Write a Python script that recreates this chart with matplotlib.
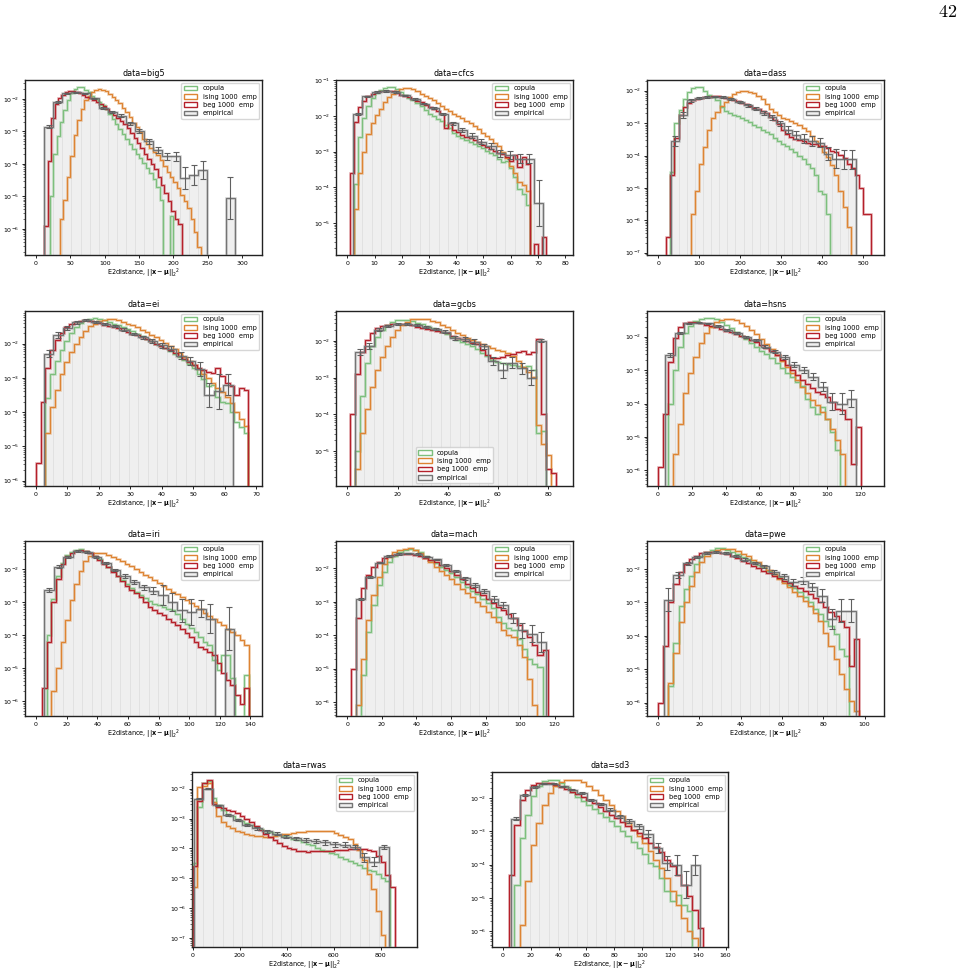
import numpy as np
import matplotlib.pyplot as plt
from matplotlib.patches import Patch
from matplotlib.ticker import MultipleLocator, LogLocator, NullFormatter

# every series: log10(density) per bin, None = empty bin
# model series share one bin width per dataset, each has its own first edge

# ---- big5 ----
big5_step = 5
big5_copula_start, big5_ising_start, big5_beg_start = 20, 35, 12
big5_copula = [-5.0, -3.7, -3.15, -2.7, -2.35, -2.03, -1.82, -1.7, -1.64, -1.65, -1.72, -1.8, -1.9, -2.0,
               -2.1, -2.2, -2.32, -2.47, -2.62, -2.77, -2.92, -3.08, -3.23, -3.38, -3.54, -3.7, -3.83,
               -3.98, -4.12, -4.27, -4.45, -4.7, -5.1, None, None, -5.6]
big5_ising = [-5.7, -5.1, -4.4, -3.75, -3.1, -2.65, -2.3, -2.05, -1.9, -1.8, -1.73, -1.7, -1.72, -1.76,
              -1.84, -1.93, -2.03, -2.14, -2.27, -2.4, -2.57, -2.73, -2.88, -3.03, -3.22, -3.4, -3.5,
              -3.62, -3.73, -3.87, -4.05, -4.25, -4.4, -4.55, -4.75, -4.95, -5.15, -5.35, -5.7, -6.1, -6.55]
big5_beg = [-5.9, -3.9, -2.6, -2.15, -1.97, -1.87, -1.8, -1.77, -1.77, -1.79, -1.83, -1.88, -1.93, -1.98,
            -2.05, -2.1, -2.15, -2.22, -2.3, -2.39, -2.49, -2.58, -2.68, -2.77, -2.9, -3.05, -3.2, -3.35,
            -3.5, -3.68, -3.85, -4.0, -4.15, -4.4, -4.65, -4.9, -5.15, -5.45, -5.7, -5.85]
big5_emp_start, big5_emp_width = 12, 13.2
big5_emp = [-2.85, -2.11, -1.83, -1.8, -1.83, -1.98, -2.27, -2.39, -2.52, -2.75, -3.0, -3.31, -3.57,
            -3.77, -3.77, -4.44, -4.34, -4.18, None, None, -5.05]
big5_emp_err = [0.06, 0.03, 0.02, 0.02, 0.02, 0.02, 0.03, 0.03, 0.04, 0.05, 0.06, 0.08, 0.1, 0.12, 0.15,
                0.33, 0.32, 0.27, 0, 0, 0.65]

# ---- cfcs ----
cfcs_step = 1.5
cfcs_copula_start, cfcs_ising_start, cfcs_beg_start = 2.5, 2.5, 1
cfcs_copula = [-3.9, -2.6, -2.05, -1.72, -1.5, -1.36, -1.27, -1.21, -1.19, -1.2, -1.24, -1.33, -1.42,
               -1.49, -1.56, -1.63, -1.73, -1.83, -1.93, -2.0, -2.08, -2.15, -2.25, -2.35, -2.47, -2.55,
               -2.62, -2.68, -2.73, -2.78, -2.83, -2.9, -2.97, -3.03, -3.1, -3.2, -3.3, -3.25, -3.45,
               -3.7, -4.05, -4.2, -4.5]
cfcs_ising = [-4.6, -3.6, -3.0, -2.5, -2.2, -1.98, -1.8, -1.62, -1.48, -1.37, -1.3, -1.25, -1.22, -1.22,
              -1.24, -1.3, -1.38, -1.45, -1.5, -1.56, -1.63, -1.72, -1.8, -1.86, -1.93, -2.0, -2.07,
              -2.13, -2.2, -2.28, -2.37, -2.47, -2.55, -2.65, -2.75, -2.85, -3.0, -3.18, -3.4, -3.6,
              -3.85, -3.95, -4.1]
cfcs_beg = [-3.6, -2.16, -1.75, -1.58, -1.45, -1.38, -1.33, -1.3, -1.29, -1.29, -1.31, -1.35, -1.4, -1.44,
            -1.48, -1.52, -1.57, -1.62, -1.68, -1.74, -1.8, -1.86, -1.95, -2.35, -2.2, -2.38, -2.45,
            -2.52, -2.58, -2.63, -2.68, -2.74, -2.8, -2.86, -2.92, -2.97, -3.03, -3.08, -3.15, -3.25,
            -3.1, -3.42, -3.15, -3.35, None, -5.6, None, -5.4]
cfcs_emp_start, cfcs_emp_width = 2, 3.5
cfcs_emp = [-1.95, -1.45, -1.33, -1.3, -1.33, -1.42, -1.52, -1.65, -1.78, -1.95, -2.2, -2.4, -2.55,
            -2.72, -2.85, -3.05, -3.1, -3.2, -3.2, -4.45]
cfcs_emp_err = [0.03, 0.02, 0.02, 0.02, 0.02, 0.02, 0.02, 0.02, 0.02, 0.03, 0.04, 0.05, 0.06, 0.07,
                0.08, 0.1, 0.12, 0.12, 0.13, 0.65]

# ---- dass ----
dass_step = 10
dass_copula_start, dass_ising_start, dass_beg_start = 30, 80, 20
dass_copula = [-4.5, -3.0, -2.6, -2.25, -2.03, -1.93, -1.89, -1.9, -2.0, -2.12, -2.2, -2.3, -2.5, -2.62,
               -2.7, -2.74, -2.78, -2.85, -2.9, -2.98, -3.05, -3.12, -3.2, -3.27, -3.35, -3.45, -3.55,
               -3.63, -3.72, -3.8, -3.9, -4.0, -4.12, -4.25, -4.4, -4.6, -5.1, -5.2, -5.8]
dass_ising = [-5.8, -5.1, -4.25, -3.75, -3.2, -2.85, -2.65, -2.48, -2.35, -2.2, -2.1, -2.03, -2.0, -2.01,
              -2.04, -2.08, -2.15, -2.25, -2.4, -2.55, -2.65, -2.75, -2.83, -2.88, -2.93, -3.0, -3.06,
              -3.15, -3.25, -3.4, -3.55, -3.72, -3.9, -4.05, -4.3, -4.6, -5.1, -5.6, -6.2]
dass_beg = [-6.5, -4.6, -3.45, -2.75, -2.5, -2.37, -2.3, -2.26, -2.23, -2.2, -2.18, -2.16, -2.17, -2.19,
            -2.22, -2.26, -2.29, -2.33, -2.37, -2.42, -2.47, -2.52, -2.58, -2.64, -2.7, -2.8, -2.9,
            -3.02, -3.2, -3.35, -3.42, -3.48, -3.52, -3.56, -3.6, -3.63, -3.66, -3.7, -3.72, -3.78,
            -3.85, -3.9, -3.98, -4.08, -4.25, -4.4, -4.6, -5.0, -5.8, -5.8]
dass_emp_start, dass_emp_width = 32, 19.6
dass_emp = [-3.55, -2.75, -2.3, -2.22, -2.2, -2.18, -2.2, -2.27, -2.35, -2.45, -2.55, -2.68, -2.82,
            -3.0, -3.2, -3.37, -3.48, -3.55, -3.6, -3.95, -4.1, -4.12, -4.12]
dass_emp_err = [0.15, 0.09, 0.04, 0.03, 0.03, 0.03, 0.03, 0.03, 0.04, 0.04, 0.05, 0.06, 0.07, 0.08,
                0.1, 0.12, 0.14, 0.15, 0.15, 0.2, 0.3, 0.3, 0.3]

# ---- ei ----
ei_step = 1.5
ei_copula_start, ei_ising_start, ei_beg_start = 3, 3, 0
ei_copula = [-3.6, -2.9, -2.5, -2.2, -1.92, -1.7, -1.52, -1.4, -1.31, -1.27, -1.26, -1.28, -1.32, -1.37,
             -1.42, -1.47, -1.52, -1.57, -1.64, -1.72, -1.79, -1.86, -1.93, -2.0, -2.07, -2.14, -2.22,
             -2.3, -2.38, -2.48, -2.6, -2.72, -2.9, -3.05, -3.25, -3.2, -3.55, -3.7, -3.75, -4.0, -4.3,
             -4.45, -4.6]
ei_ising = [-4.6, -3.85, -3.35, -2.9, -2.55, -2.25, -2.02, -1.8, -1.63, -1.5, -1.42, -1.35, -1.31, -1.29,
            -1.29, -1.32, -1.37, -1.42, -1.47, -1.53, -1.6, -1.67, -1.74, -1.82, -1.9, -1.99, -2.08,
            -2.17, -2.28, -2.4, -2.5, -2.62, -2.75, -2.88, -3.0, -3.15, -3.3, -3.42, -3.55, -3.75,
            -4.0, -4.2, -4.4]
ei_beg = [-5.5, -3.7, -2.7, -2.2, -1.9, -1.68, -1.52, -1.42, -1.36, -1.33, -1.32, -1.34, -1.38, -1.41,
          -1.45, -1.49, -1.53, -1.56, -1.61, -1.66, -1.71, -1.76, -1.82, -1.88, -1.94, -2.0, -2.06,
          -2.12, -2.19, -2.27, -2.36, -2.45, -2.54, -2.62, -2.7, -2.76, -2.82, -2.87, -2.7, -2.95,
          -3.15, -3.25, -3.5, -3.3, -3.35]
ei_emp_start, ei_emp_width = 2.5, 3.0
ei_emp = [-2.3, -1.75, -1.55, -1.38, -1.32, -1.37, -1.42, -1.5, -1.6, -1.72, -1.82, -1.92, -2.05, -2.15,
          -2.35, -2.5, -2.75, -3.5, -3.4, -3.2]
ei_emp_err = [0.1, 0.08, 0.05, 0.04, 0.03, 0.03, 0.03, 0.03, 0.04, 0.04, 0.05, 0.06, 0.07, 0.08, 0.1,
              0.12, 0.2, 0.35, 0.5, 0.3]

# ---- gcbs ----
gcbs_step = 2
gcbs_copula_start, gcbs_ising_start, gcbs_beg_start = 3, 3, 1
gcbs_copula = [-5.0, -3.5, -2.6, -2.15, -1.9, -1.7, -1.57, -1.49, -1.44, -1.43, -1.44, -1.47, -1.51,
               -1.55, -1.6, -1.65, -1.7, -1.76, -1.82, -1.9, -1.97, -2.03, -2.08, -2.14, -2.22, -2.32,
               -2.42, -2.52, -2.58, -2.6, -2.62, -2.65, -2.68, -2.7, -2.68, -2.8, -4.5, -4.45]
gcbs_ising = [-5.5, -4.5, -3.85, -3.25, -2.8, -2.45, -2.15, -1.9, -1.72, -1.58, -1.48, -1.42, -1.4, -1.4,
              -1.42, -1.45, -1.5, -1.56, -1.63, -1.7, -1.78, -1.85, -1.92, -1.98, -2.04, -2.1, -2.15,
              -2.2, -2.24, -2.28, -2.33, -2.42, -2.55, -2.7, -2.85, -2.99, -4.3, -4.8, -5.1]
gcbs_beg = [-4.0, -2.9, -2.3, -1.98, -1.78, -1.65, -1.59, -1.56, -1.54, -1.53, -1.53, -1.55, -1.58, -1.62,
            -1.65, -1.68, -1.71, -1.74, -1.76, -1.8, -1.86, -1.92, -1.96, -2.0, -2.05, -2.1, -2.25,
            -2.4, -2.48, -2.47, -2.45, -2.4, -2.36, -2.3, -2.28, -2.35, -2.3, -1.95, -4.0, -5.5, -5.6]
gcbs_emp_start, gcbs_emp_width = 3, 3.8
gcbs_emp = [-2.3, -2.15, -1.7, -1.6, -1.55, -1.54, -1.57, -1.63, -1.68, -1.75, -1.92, -1.95, -2.02,
            -2.15, -2.55, -2.8, -2.6, -2.75, -3.0, -2.0]
gcbs_emp_err = [0.08, 0.08, 0.04, 0.03, 0.03, 0.03, 0.03, 0.03, 0.04, 0.04, 0.05, 0.06, 0.06, 0.07,
                0.1, 0.2, 0.15, 0.15, 0.2, 0.04]

# ---- hsns ----
hsns_step = 3
hsns_copula_start, hsns_ising_start, hsns_beg_start = 6, 9, 0
hsns_copula = [-4.0, -3.0, -2.3, -1.9, -1.67, -1.53, -1.46, -1.43, -1.43, -1.48, -1.56, -1.65, -1.75,
               -1.85, -1.97, -2.08, -2.2, -2.3, -2.42, -2.52, -2.65, -2.78, -2.95, -3.08, -3.2, -3.35,
               -3.47, -3.85, -4.1, -4.3, -4.1, -4.45, -4.85, -5.4]
hsns_ising = [-5.5, -4.6, -3.7, -3.1, -2.6, -2.2, -1.9, -1.7, -1.57, -1.5, -1.47, -1.47, -1.5, -1.58,
              -1.68, -1.8, -1.92, -2.06, -2.22, -2.38, -2.55, -2.72, -2.9, -3.1, -3.3, -3.5, -3.7, -3.9,
              -4.05, -4.25, -4.45, -4.75, -5.1, -5.5]
hsns_beg = [-5.9, -4.3, -2.75, -2.05, -1.72, -1.6, -1.57, -1.57, -1.6, -1.64, -1.68, -1.72, -1.77, -1.82,
            -1.87, -1.92, -1.97, -2.03, -2.1, -2.17, -2.25, -2.33, -2.44, -2.56, -2.7, -2.85, -3.0,
            -3.15, -3.3, -3.42, -3.55, -3.65, -3.72, -3.8, -3.95, -4.15, -4.2, -4.45, -5.8, -4.7]
hsns_emp_start, hsns_emp_width = 4.3, 5.65
hsns_emp = [-2.55, -1.9, -1.6, -1.58, -1.6, -1.68, -1.8, -1.88, -2.0, -2.1, -2.3, -2.45, -2.6, -2.84,
            -3.0, -3.2, -3.5, -3.95, -4.0, -3.85]
hsns_emp_err = [0.06, 0.03, 0.02, 0.02, 0.02, 0.02, 0.02, 0.03, 0.03, 0.03, 0.04, 0.05, 0.06, 0.07,
                0.08, 0.1, 0.13, 0.25, 0.3, 0.25]

# ---- iri ----
iri_step = 3
iri_copula_start, iri_ising_start, iri_beg_start = 7, 10, 4
iri_copula = [-4.0, -2.9, -2.2, -1.82, -1.58, -1.47, -1.42, -1.4, -1.44, -1.52, -1.6, -1.7, -1.82, -1.95,
              -2.07, -2.2, -2.33, -2.46, -2.58, -2.68, -2.78, -2.88, -2.98, -3.05, -3.1, -3.15, -3.2,
              -3.25, -3.35, -3.5, -3.65, -3.78, -3.9, -4.05, -4.2, -4.3, -4.75, -5.05, -4.6, -4.6,
              -5.3, None, None, -5.2]
iri_ising = [-5.7, -5.0, -4.2, -3.55, -2.95, -2.45, -2.05, -1.75, -1.6, -1.52, -1.5, -1.51, -1.56, -1.62,
             -1.69, -1.76, -1.84, -1.92, -2.0, -2.08, -2.17, -2.25, -2.34, -2.43, -2.52, -2.6, -2.68,
             -2.76, -2.84, -2.93, -3.03, -3.13, -3.22, -3.32, -3.42, -3.52, -3.6, -3.7, -3.8, -3.9,
             -4.0, -4.15, -4.3]
iri_beg = [-5.6, -4.2, -3.0, -2.3, -1.85, -1.6, -1.5, -1.45, -1.43, -1.45, -1.52, -1.6, -1.72, -1.84,
           -1.95, -2.08, -2.22, -2.35, -2.5, -2.62, -2.73, -2.85, -3.0, -3.14, -3.25, -3.33, -3.4, -3.5,
           -3.6, -3.7, -3.82, -3.93, -4.05, -4.22, -4.35, -4.42, -4.5, -4.6, -4.85, -5.15, -5.35, -5.5,
           -5.8, -6.1, -5.6]
iri_emp_start, iri_emp_width = 5.4, 6.2
iri_emp = [-2.63, -1.93, -1.63, -1.45, -1.48, -1.63, -1.83, -2.03, -2.21, -2.38, -2.55, -2.65, -2.78,
           -3.0, -3.25, -3.3, -3.2, -3.5, None, -3.8]
iri_emp_err = [0.06, 0.04, 0.03, 0.02, 0.02, 0.03, 0.03, 0.04, 0.05, 0.06, 0.08, 0.1, 0.3, 0.28, 0.35,
               0.4, 0.25, 0.45, 0, 0.65]

# ---- mach ----
mach_step = 3
mach_copula_start, mach_ising_start, mach_beg_start = 8, 5, 2
mach_copula = [-5.2, -3.9, -3.1, -2.5, -2.1, -1.8, -1.62, -1.5, -1.44, -1.42, -1.44, -1.52, -1.62, -1.75,
               -1.85, -1.95, -2.05, -2.15, -2.27, -2.4, -2.55, -2.68, -2.78, -2.92, -3.05, -3.2, -3.45,
               -3.65, -3.78, -3.85, -4.1, -4.4, -4.7, -4.85, -4.95]
mach_ising = [-6.1, -4.7, -3.55, -2.8, -2.25, -1.88, -1.65, -1.52, -1.45, -1.41, -1.4, -1.45, -1.55,
              -1.68, -1.82, -1.95, -2.08, -2.2, -2.33, -2.48, -2.62, -2.75, -2.87, -3.0, -3.12, -3.3,
              -3.45, -3.62, -3.85, -3.98, -4.05, -4.3, -4.65, -5.3, -6.1]
mach_beg = [-5.0, -3.5, -2.6, -2.2, -1.95, -1.8, -1.68, -1.62, -1.59, -1.57, -1.57, -1.58, -1.6, -1.64,
            -1.69, -1.75, -1.82, -1.9, -1.99, -2.08, -2.2, -2.33, -2.46, -2.58, -2.7, -2.8, -2.92,
            -3.05, -3.15, -3.25, -3.37, -3.5, -3.7, -3.88, -4.05, -4.3, -4.6, -4.45]
mach_emp_start, mach_emp_width = 5, 5.5
mach_emp = [-2.92, -2.25, -1.83, -1.63, -1.57, -1.55, -1.57, -1.65, -1.73, -1.9, -2.07, -2.3, -2.5,
            -2.68, -2.92, -3.1, -3.5, -3.85, -3.95, -4.2]
mach_emp_err = [0.04, 0.03, 0.02, 0.02, 0.02, 0.02, 0.02, 0.02, 0.02, 0.03, 0.03, 0.04, 0.05, 0.06,
                0.08, 0.1, 0.15, 0.22, 0.25, 0.3]

# ---- pwe ----
pwe_step = 2.5
pwe_copula_start, pwe_ising_start, pwe_beg_start = 5, 5, 0
pwe_copula = [-5.5, -4.2, -3.1, -2.6, -2.2, -1.85, -1.62, -1.5, -1.42, -1.38, -1.38, -1.42, -1.48, -1.55,
              -1.63, -1.71, -1.79, -1.87, -1.95, -2.05, -2.15, -2.25, -2.36, -2.47, -2.58, -2.7, -2.83,
              -3.0, -3.2, -3.35, -3.55, -3.7, -3.95, -4.4, -4.6]
pwe_ising = [-5.4, -4.5, -3.6, -3.0, -2.5, -2.1, -1.8, -1.6, -1.48, -1.42, -1.39, -1.39, -1.41, -1.46,
             -1.54, -1.62, -1.72, -1.8, -1.9, -2.02, -2.15, -2.3, -2.42, -2.55, -2.68, -2.8, -2.95,
             -3.12, -3.33, -3.57, -3.9, -4.3, -4.7, -5.15, -5.6, -5.95, -6.25]
pwe_beg = [-6.0, -4.3, -3.0, -2.45, -2.1, -1.85, -1.7, -1.6, -1.53, -1.5, -1.48, -1.49, -1.52, -1.56,
           -1.62, -1.68, -1.75, -1.83, -1.9, -1.98, -2.05, -2.12, -2.2, -2.27, -2.35, -2.43, -2.5, -2.58,
           -2.66, -2.75, -2.86, -3.0, -3.15, -3.28, -3.4, -3.55, -3.75, -4.9, -4.1]
pwe_emp_start, pwe_emp_width = 2.7, 4.65
pwe_emp = [-2.92, -2.18, -1.83, -1.63, -1.53, -1.5, -1.53, -1.61, -1.72, -1.82, -1.92, -2.1, -2.22,
           -2.4, -2.35, -2.55, -2.8, -3.5, -3.25, -3.25]
pwe_emp_err = [0.35, 0.08, 0.05, 0.03, 0.03, 0.03, 0.03, 0.03, 0.04, 0.04, 0.05, 0.06, 0.07, 0.1, 0.1,
               0.12, 0.2, 0.3, 0.35, 0.35]

# ---- rwas ----
rwas_step = 20
rwas_copula_start, rwas_ising_start, rwas_beg_start = 0, 0, 0
rwas_copula = [-4.5, -2.6, -1.8, -1.75, -2.3, -2.55, -2.72, -2.83, -2.93, -3.0, -3.08, -3.15, -3.22,
               -3.28, -3.35, -3.4, -3.45, -3.5, -3.55, -3.59, -3.63, -3.67, -3.72, -3.78, -3.84, -3.9,
               -3.97, -4.04, -4.09, -4.14, -4.2, -4.28, -4.35, -4.42, -4.5, -4.57, -4.65, -4.72, -4.75,
               -4.85, -5.0, -5.1]
rwas_ising = [-5.3, -1.95, -1.9, -1.8, -2.45, -2.9, -3.12, -3.25, -3.33, -3.4, -3.45, -3.5, -3.54, -3.57,
              -3.59, -3.6, -3.6, -3.58, -3.56, -3.53, -3.5, -3.48, -3.46, -3.44, -3.42, -3.41, -3.4,
              -3.4, -3.41, -3.43, -3.47, -3.55, -3.62, -3.7, -3.85, -4.05, -4.4, -4.85, -5.35, -6.1, -6.9]
rwas_beg = [-4.6, -2.4, -1.8, -1.72, -2.5, -2.6, -2.65, -2.7, -2.75, -2.81, -2.9, -3.0, -3.12, -3.25,
            -3.37, -3.5, -3.6, -3.72, -3.82, -3.92, -3.97, -4.03, -4.07, -4.1, -4.12, -4.1, -4.09, -4.08,
            -4.07, -4.07, -4.06, -4.05, -4.05, -4.03, -4.02, -4.02, -4.03, -4.06, -4.1, -4.25, -4.45,
            -4.9, -5.3]
rwas_emp_start, rwas_emp_width = 4, 41.5
rwas_emp = [-2.33, -2.0, -2.56, -2.88, -3.05, -3.22, -3.33, -3.43, -3.51, -3.6, -3.66, -3.71, -3.75,
            -3.8, -3.86, -3.88, -3.95, -4.3, -4.45, -3.95]
rwas_emp_err = [0.02, 0.02, 0.02, 0.03, 0.03, 0.04, 0.04, 0.05, 0.05, 0.05, 0.06, 0.06, 0.07, 0.07,
                0.08, 0.08, 0.08, 0.15, 0.15, 0.07]

# ---- sd3 ----
sd3_step = 4
sd3_copula_start, sd3_ising_start, sd3_beg_start = 8, 12, 4
sd3_copula = [-4.6, -3.2, -2.5, -1.95, -1.65, -1.5, -1.45, -1.46, -1.55, -1.67, -1.82, -1.97, -2.1, -2.22,
              -2.33, -2.45, -2.57, -2.7, -2.85, -3.0, -3.15, -3.32, -3.5, -3.68, -3.95, -4.05, -4.4,
              -4.8, -5.1, -4.9, -5.2, -5.4]
sd3_ising = [-5.8, -4.5, -3.4, -2.75, -2.2, -1.85, -1.65, -1.53, -1.47, -1.45, -1.47, -1.53, -1.63, -1.75,
             -1.9, -2.05, -2.2, -2.38, -2.55, -2.75, -2.95, -3.15, -3.35, -3.6, -3.85, -4.1, -4.4, -4.8,
             -5.2, -5.6, -6.0, -6.2]
sd3_beg = [-4.3, -2.8, -2.05, -1.75, -1.6, -1.55, -1.54, -1.56, -1.6, -1.67, -1.74, -1.81, -1.88, -1.96,
           -2.05, -2.15, -2.27, -2.38, -2.5, -2.6, -2.72, -2.83, -2.95, -3.05, -3.2, -3.35, -3.48, -3.62,
           -3.85, -4.05, -4.3, -4.6, -4.95, -5.35, -5.9]
sd3_emp_start, sd3_emp_width = 5.7, 6.8
sd3_emp = [-2.62, -1.92, -1.67, -1.57, -1.57, -1.65, -1.75, -1.85, -2.05, -2.17, -2.35, -2.55, -2.7,
           -2.85, -3.07, -3.5, -3.95, -4.0, -4.6, -4.0]
sd3_emp_err = [0.05, 0.03, 0.02, 0.02, 0.02, 0.02, 0.02, 0.02, 0.03, 0.03, 0.04, 0.05, 0.06, 0.08, 0.1,
               0.15, 0.2, 0.3, 0.4, 0.3]

labels = ['copula', 'ising 1000  emp', 'beg 1000  emp', 'empirical']
colors = ['#7dbf7d', '#dd8433', '#b5202a', '#747474']

# name, series, empirical, xlim, log10 ylim, x tick step, legend loc, axes box in px (left, top, w, h)
panels = [
    ('big5', big5_step, [(big5_copula_start, big5_copula), (big5_ising_start, big5_ising), (big5_beg_start, big5_beg)],
     (big5_emp_start, big5_emp_width, big5_emp, big5_emp_err), (-16, 329), (-6.8, -1.42), 50, 'upper right', (25, 80, 237, 175)),
    ('cfcs', cfcs_step, [(cfcs_copula_start, cfcs_copula), (cfcs_ising_start, cfcs_ising), (cfcs_beg_start, cfcs_beg)],
     (cfcs_emp_start, cfcs_emp_width, cfcs_emp, cfcs_emp_err), (-4.2, 82.9), (-5.9, -0.99), 10, 'upper right', (336, 80, 237, 175)),
    ('dass', dass_step, [(dass_copula_start, dass_copula), (dass_ising_start, dass_ising), (dass_beg_start, dass_beg)],
     (dass_emp_start, dass_emp_width, dass_emp, dass_emp_err), (-27, 551), (-7.07, -1.67), 100, 'upper right', (647, 80, 237, 175)),
    ('ei', ei_step, [(ei_copula_start, ei_copula), (ei_ising_start, ei_ising), (ei_beg_start, ei_beg)],
     (ei_emp_start, ei_emp_width, ei_emp, ei_emp_err), (-3.5, 71.8), (-6.16, -1.05), 10, 'upper right', (25, 311, 237, 175)),
    ('gcbs', gcbs_step, [(gcbs_copula_start, gcbs_copula), (gcbs_ising_start, gcbs_ising), (gcbs_beg_start, gcbs_beg)],
     (gcbs_emp_start, gcbs_emp_width, gcbs_emp, gcbs_emp_err), (-4.5, 89.9), (-5.95, -1.19), 20, 'lower center', (336, 311, 237, 175)),
    ('hsns', hsns_step, [(hsns_copula_start, hsns_copula), (hsns_ising_start, hsns_ising), (hsns_beg_start, hsns_beg)],
     (hsns_emp_start, hsns_emp_width, hsns_emp, hsns_emp_err), (-6.5, 133.8), (-6.47, -1.23), 20, 'upper right', (647, 311, 237, 175)),
    ('iri', iri_step, [(iri_copula_start, iri_copula), (iri_ising_start, iri_ising), (iri_beg_start, iri_beg)],
     (iri_emp_start, iri_emp_width, iri_emp, iri_emp_err), (-7.2, 147.6), (-6.45, -1.15), 20, 'upper right', (25, 541, 237, 175)),
    ('mach', mach_step, [(mach_copula_start, mach_copula), (mach_ising_start, mach_ising), (mach_beg_start, mach_beg)],
     (mach_emp_start, mach_emp_width, mach_emp, mach_emp_err), (-6.5, 130.6), (-6.42, -1.18), 20, 'upper right', (336, 541, 237, 175)),
    ('pwe', pwe_step, [(pwe_copula_start, pwe_copula), (pwe_ising_start, pwe_ising), (pwe_beg_start, pwe_beg)],
     (pwe_emp_start, pwe_emp_width, pwe_emp, pwe_emp_err), (-5.3, 109.4), (-6.4, -1.16), 20, 'upper right', (647, 541, 237, 175)),
    ('rwas', rwas_step, [(rwas_copula_start, rwas_copula), (rwas_ising_start, rwas_ising), (rwas_beg_start, rwas_beg)],
     (rwas_emp_start, rwas_emp_width, rwas_emp, rwas_emp_err), (-3, 954), (-7.3, -1.44), 200, 'upper right', (192, 772, 225, 175)),
    ('sd3', sd3_step, [(sd3_copula_start, sd3_copula), (sd3_ising_start, sd3_ising), (sd3_beg_start, sd3_beg)],
     (sd3_emp_start, sd3_emp_width, sd3_emp, sd3_emp_err), (-7.9, 161.7), (-6.47, -1.22), 20, 'upper right', (492, 772, 236, 175)),
]


def to_density(logs):
    a = np.array(logs, dtype=float)
    return np.where(np.isnan(a), 0.0, 10.0 ** a)


W, H = 965, 975
fig = plt.figure(figsize=(W / 100, H / 100), dpi=100)

for name, step, series, emp, xlim, ylim, xstep, loc, box in panels:
    l, t, w, h = box
    ax = fig.add_axes([l / W, 1 - (t + h) / H, w / W, h / H])
    ax.set_yscale('log')

    # empirical: light filled bars
    e_start, e_width, e_logs, e_err = emp
    d = to_density(e_logs)
    edges = e_start + e_width * np.arange(len(d) + 1)
    ax.bar(edges[:-1], d, width=e_width, align='edge', color='#efefef',
           edgecolor='#e0e0e0', linewidth=0.6, zorder=1)

    # model histograms
    for (start, logs), c in zip(series, colors[:3]):
        m = to_density(logs)
        m_edges = start + step * np.arange(len(m) + 1)
        ax.stairs(m, m_edges, baseline=0, color=c, lw=2.0, alpha=0.3, zorder=2)
        ax.stairs(m, m_edges, baseline=0, color=c, lw=0.9, zorder=3)

    # empirical outline + error bars
    ax.stairs(d, edges, baseline=0, color=colors[3], lw=2.0, alpha=0.25, zorder=4)
    ax.stairs(d, edges, baseline=0, color=colors[3], lw=0.9, zorder=4)
    err = np.array(e_err, dtype=float)
    centers = (edges[:-1] + edges[1:]) / 2
    ok = d > 0
    lo = d - d * 10.0 ** (-err)
    hi = d * 10.0 ** err - d
    ax.errorbar(centers[ok], d[ok], yerr=[lo[ok], hi[ok]], fmt='none', ecolor='#606060',
                elinewidth=0.8, capsize=2, capthick=0.8, zorder=5)

    ax.set_xlim(*xlim)
    ax.set_ylim(10.0 ** ylim[0], 10.0 ** ylim[1])
    ax.xaxis.set_major_locator(MultipleLocator(xstep))
    ax.yaxis.set_major_locator(LogLocator(base=10, numticks=15))
    ax.yaxis.set_minor_locator(LogLocator(base=10, subs=np.arange(2, 10), numticks=15))
    ax.yaxis.set_minor_formatter(NullFormatter())
    ax.tick_params(axis='both', which='major', labelsize=4.5, length=2.5, width=0.6, pad=1.5)
    ax.tick_params(axis='y', which='minor', length=1.4, width=0.4)
    for s in ax.spines.values():
        s.set_linewidth(1.0)
        s.set_color('#222222')

    ax.set_title(f'data={name}', fontsize=5.8, pad=3)
    ax.set_xlabel(r'E2distance, $||\mathbf{x}-\mathbf{\mu}||_2{}^2$', fontsize=4.7, labelpad=1)

    handles = [Patch(facecolor='none', edgecolor=c, lw=1.0) for c in colors[:3]]
    handles.append(Patch(facecolor='#efefef', edgecolor=colors[3], lw=1.0))
    ax.legend(handles, labels, loc=loc, fontsize=4.8, framealpha=0.8, borderpad=0.4,
              handlelength=2.0, labelspacing=0.35, borderaxespad=0.4)

fig.text(948 / W, 1 - 12 / H, r'$42$', ha='center', va='center', fontsize=13, math_fontfamily='cm')

fig.savefig('out.png', dpi=100)
